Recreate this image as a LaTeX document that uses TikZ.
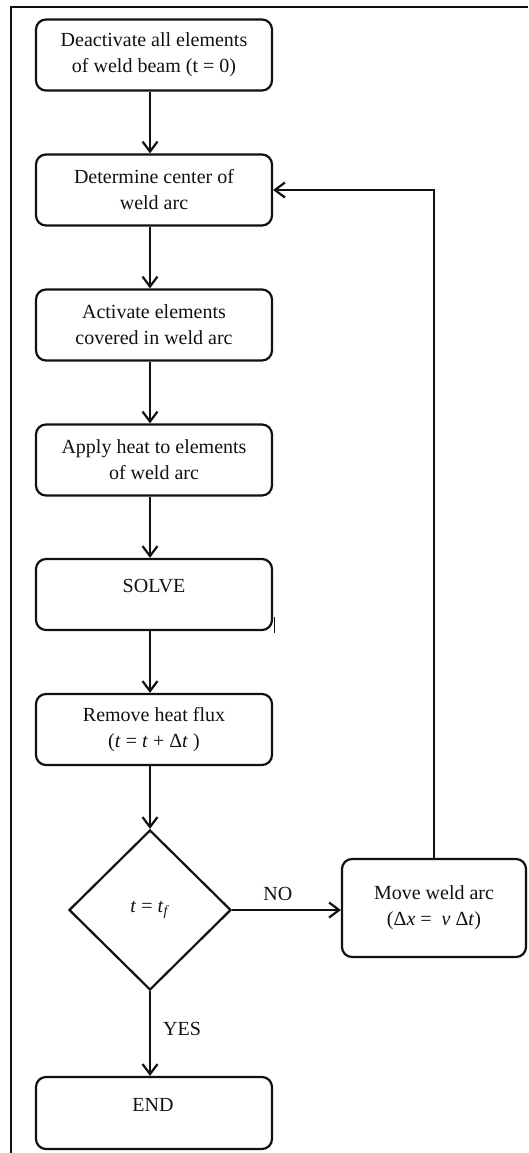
\RequirePackage{fix-cm}
\documentclass[tikz,border=0pt]{standalone}
\usepackage{fontspec}
\setmainfont{Liberation Serif}
\usetikzlibrary{arrows.meta,shapes.geometric}
\definecolor{ink}{HTML}{111111}
\newcommand{\vi}[1]{\textit{#1}}
\tikzset{
  stepbox/.style={draw=ink, rectangle, rounded corners=10pt, line width=2.2pt,
    minimum width=236pt, minimum height=71pt, inner sep=0pt, align=center,
    text=ink, font=\fontsize{20}{26}\selectfont},
  plain/.style={inner sep=0pt, text=ink, font=\fontsize{20}{26}\selectfont},
  decide/.style={draw=ink, diamond, aspect=1, line width=2.2pt, minimum width=162pt,
    minimum height=160pt, inner sep=0pt, text=ink, font=\fontsize{20}{26}\selectfont},
  arr/.style={draw=ink, line width=2.2pt, -{Straight Barb[length=10pt,width=15pt,line width=2.2pt]}},
}
\begin{document}
\begin{tikzpicture}[x=1pt,y=1pt]
\useasboundingbox (0,0) rectangle (528,-1153);
% frame
\draw[ink, line width=2.2pt] (11,-1153) -- (11,-7) -- (528,-7);
% nodes
\node[stepbox] (b1) at (154,-55) {Deactivate all elements\\of weld beam (t = 0)};
\node[stepbox] (b2) at (154,-190) {Determine center of\\weld arc};
\node[stepbox] (b3) at (154,-325) {Activate elements\\covered in weld arc};
\node[stepbox] (b4) at (154,-460) {Apply heat to elements\\of weld arc};
\node[stepbox] (b5) at (154,-594.5) {};
\node[plain] (solvetxt) at ([yshift=8.5pt]b5.center) {SOLVE};
\node[stepbox] (b6) at (154,-729.5) {Remove heat flux\\(\vi{t}~=~\vi{t}~+~Δ\vi{t}~)};
\node[decide] (d) at (150,-910) {\vi{t}~=~\vi{t}\textsubscript{\vi{f}}};
\node[stepbox, minimum width=184pt, minimum height=98pt] (m) at (434,-908)
  {Move weld arc\\(Δ\vi{x}~=~~\vi{v}~Δ\vi{t})};
\node[stepbox, minimum height=72pt] (e) at (154,-1113) {};
\node[plain] (endtxt) at (153,-1105) {END};
% connectors
\draw[arr] (b1.south -| d.center) -- (b2.north -| d.center);
\draw[arr] (b2.south -| d.center) -- (b3.north -| d.center);
\draw[arr] (b3.south -| d.center) -- (b4.north -| d.center);
\draw[arr] (b4.south -| d.center) -- (b5.north -| d.center);
\draw[arr] (b5.south -| d.center) -- (b6.north -| d.center);
\draw[arr] (b6.south -| d.center) -- (d.north);
\draw[arr] (d.east) -- (d.east -| m.west) node[plain, pos=0.42, above=8pt] (no) {NO};
\draw[arr] (d.south) -- (e.north -| d.center) node[plain, pos=0.45, right=12pt] (yes) {YES};
\draw[arr] (m.north) |- (b2.east);
% cursor mark
\draw[ink, line width=1pt] (274.5,-617) -- (274.5,-633);
\end{tikzpicture}
\end{document}
